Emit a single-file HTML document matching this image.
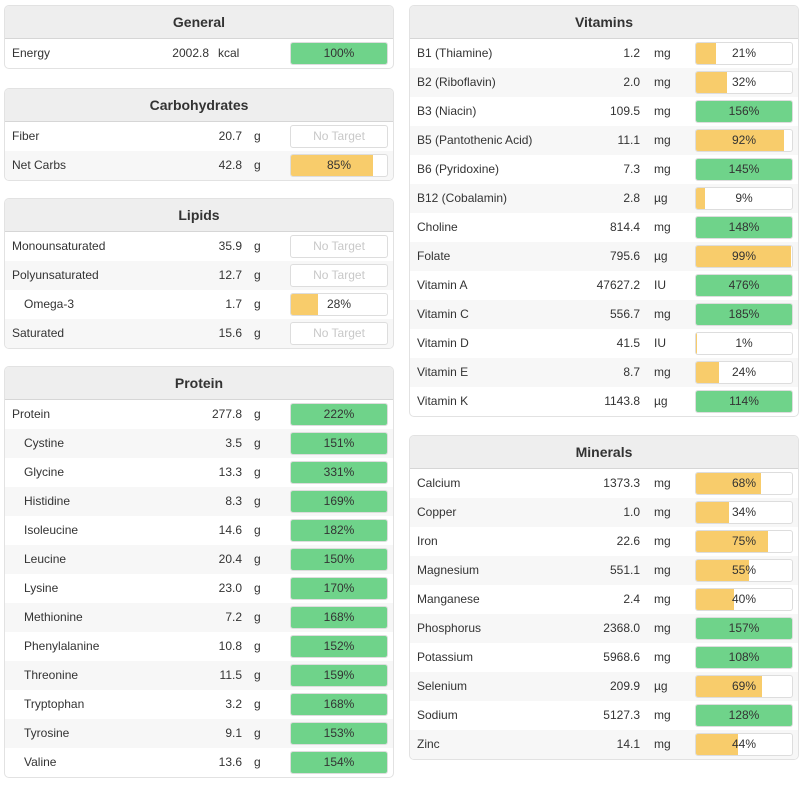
<!DOCTYPE html>
<html><head><meta charset="utf-8"><style>
*{box-sizing:border-box}
body{margin:0;width:806px;height:785px;background:#fff;font-family:"Liberation Sans",sans-serif;font-size:12px;color:#333;position:relative;overflow:hidden}
.panel{position:absolute;width:390px;border:1px solid #e2e2e2;border-radius:5px;background:#fff;overflow:hidden}
.hdr{height:33px;background:#eee;border-bottom:1px solid #d6d6d6;text-align:center;font-weight:bold;font-size:14px;line-height:33px;color:#333}
.row{position:relative;height:29px;line-height:29px}
.row:nth-child(even){background:#f7f7f7}
.nm{position:absolute;left:7px}
.nm.sub{left:19px}
.val{position:absolute;right:151px;text-align:right}
.unit{position:absolute;left:249px}
.bar{position:absolute;left:285px;top:3px;width:98px;height:23px;border:1px solid #ddd;border-radius:3px;overflow:hidden;background:#fff;text-align:center;line-height:21px}
.fill{position:absolute;left:0;top:0;bottom:0}
.bar span{position:relative}
.nt{color:#c8c8c8}
</style></head><body>
<div id="root"></div>
<script>
const G='#6fd38a',Y='#f8cc6b';
const sectionTitles=['General','Carbohydrates','Lipids','Protein','Vitamins','Minerals'];
const sectionPos=[[4,5],[4,88],[4,198],[4,366],[409,5],[409,435]];
const generalNames=['Energy'];const generalVals=['2002.8'];const generalUnits=['kcal'];const generalPct=[100];
const carbNames=['Fiber','Net Carbs'];const carbVals=['20.7','42.8'];const carbUnits=['g','g'];const carbPct=[null,85];
const lipidNames=['Monounsaturated','Polyunsaturated','Omega-3','Saturated'];const lipidVals=['35.9','12.7','1.7','15.6'];const lipidUnits=['g','g','g','g'];const lipidPct=[null,null,28,null];const lipidSub=[0,0,1,0];
const protNames=['Protein','Cystine','Glycine','Histidine','Isoleucine','Leucine','Lysine','Methionine','Phenylalanine','Threonine','Tryptophan','Tyrosine','Valine'];
const protVals=['277.8','3.5','13.3','8.3','14.6','20.4','23.0','7.2','10.8','11.5','3.2','9.1','13.6'];
const protPct=[222,151,331,169,182,150,170,168,152,159,168,153,154];
const vitNames=['B1 (Thiamine)','B2 (Riboflavin)','B3 (Niacin)','B5 (Pantothenic Acid)','B6 (Pyridoxine)','B12 (Cobalamin)','Choline','Folate','Vitamin A','Vitamin C','Vitamin D','Vitamin E','Vitamin K'];
const vitVals=['1.2','2.0','109.5','11.1','7.3','2.8','814.4','795.6','47627.2','556.7','41.5','8.7','1143.8'];
const vitUnits=['mg','mg','mg','mg','mg','µg','mg','µg','IU','mg','IU','mg','µg'];
const vitPct=[21,32,156,92,145,9,148,99,476,185,1,24,114];
const minNames=['Calcium','Copper','Iron','Magnesium','Manganese','Phosphorus','Potassium','Selenium','Sodium','Zinc'];
const minVals=['1373.3','1.0','22.6','551.1','2.4','2368.0','5968.6','209.9','5127.3','14.1'];
const minUnits=['mg','mg','mg','mg','mg','mg','mg','µg','mg','mg'];
const minPct=[68,34,75,55,40,157,108,69,128,44];
const sections=[
 {n:generalNames,v:generalVals,u:generalUnits,p:generalPct,s:[0],gen:1},
 {n:carbNames,v:carbVals,u:carbUnits,p:carbPct,s:[0,0]},
 {n:lipidNames,v:lipidVals,u:lipidUnits,p:lipidPct,s:lipidSub},
 {n:protNames,v:protVals,u:protNames.map(()=>'g'),p:protPct,s:protNames.map((_,i)=>i?1:0)},
 {n:vitNames,v:vitVals,u:vitUnits,p:vitPct,s:vitNames.map(()=>0),r:1},
 {n:minNames,v:minVals,u:minUnits,p:minPct,s:minNames.map(()=>0),r:1}];
const root=document.getElementById('root');
sections.forEach((sec,k)=>{
 const slug=sectionTitles[k].toLowerCase();
 const p=document.createElement('div');p.className='panel';
 
 
 p.style.left=sectionPos[k][0]+'px';p.style.top=sectionPos[k][1]+'px';
 const h=document.createElement('div');h.className='hdr';h.textContent=sectionTitles[k];
 
 
 p.appendChild(h);
 const body=document.createElement('div');p.appendChild(body);
 sec.n.forEach((nm,i)=>{
  const r=document.createElement('div');r.className='row';
  
  
  const pct=sec.p[i];
  const valStyle=sec.gen?'right:184px':(sec.r?'right:158px':'');
  const unitStyle=sec.gen?'left:213px':(sec.r?'left:244px':'');
  let bar;
  if(pct==null){bar='<div class="bar"><span class="nt">No Target</span></div>';}
  else{const w=Math.min(pct,100);const c=pct>=100?G:Y;
   bar='<div class="bar"><div class="fill" style="width:'+w+'%;background:'+c+'"></div><span>'+pct+'%</span></div>';}
  r.innerHTML='<span class="nm'+(sec.s[i]?' sub':'')+'">'+nm+'</span><span class="val" style="'+valStyle+'">'+sec.v[i]+'</span><span class="unit" style="'+unitStyle+'">'+sec.u[i]+'</span>'+bar;
  body.appendChild(r);
 });
 root.appendChild(p);
});
</script>
</body></html>
